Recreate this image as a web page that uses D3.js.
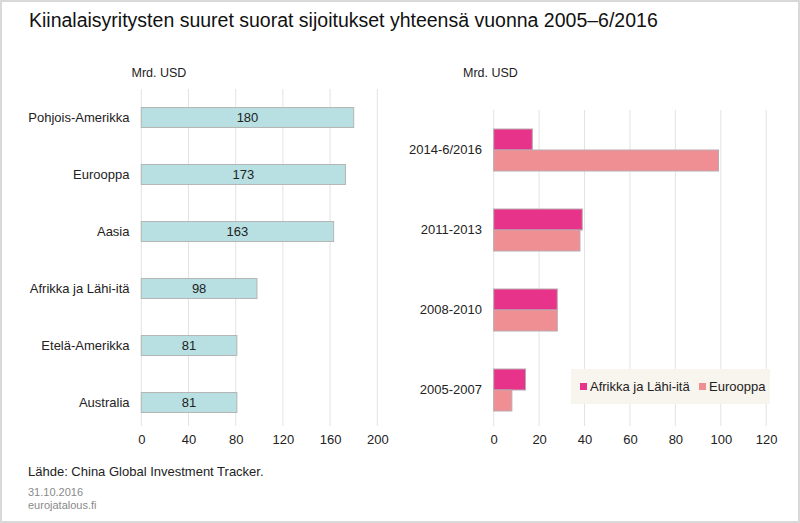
<!DOCTYPE html>
<html><head><meta charset="utf-8">
<script src="https://cdn.jsdelivr.net/npm/d3@7"></script>
<style>
html,body{margin:0;padding:0;background:#fff;}
text{font-family:"Liberation Sans",Arial,sans-serif;}
</style></head><body>
<svg id="c" width="800" height="523"></svg>
<script>
const regions = ["Pohjois-Amerikka","Eurooppa","Aasia","Afrikka ja Lähi-itä","Etelä-Amerikka","Australia"];
const regionValues = [180,173,163,98,81,81];
const leftTicks = [0,40,80,120,160,200];

const periods = ["2014-6/2016","2011-2013","2008-2010","2005-2007"];
const seriesNames = ["Afrikka ja Lähi-itä","Eurooppa"];
const afrikkaValues = [17,39,28,14];
const eurooppaValues = [99,38,28,8];
const rightTicks = [0,20,40,60,80,100,120];
const seriesColors = ["#e8338a","#f08f93"];

const svg = d3.select("#c");
svg.append("rect").attr("x",1).attr("y",1).attr("width",798).attr("height",521)
  .attr("fill","#fff").attr("stroke","#d9d9d9").attr("stroke-width",2);

svg.append("text").attr("x",29).attr("y",27).attr("font-size",19.5).attr("fill","#111")
  .text("Kiinalaisyritysten suuret suorat sijoitukset yhteensä vuonna 2005–6/2016");

// LEFT CHART
const xL = d3.scaleLinear().domain([0,200]).range([141.3,377.3]);
const yL = d3.scaleBand().domain(regions).range([89,431]).paddingInner(0.65).paddingOuter(0.325);
const gL = svg.append("g");
gL.selectAll("line.grid").data(leftTicks).join("line")
  .attr("x1",d=>xL(d)).attr("x2",d=>xL(d)).attr("y1",89).attr("y2",426)
  .attr("stroke","#e3e3e3").attr("stroke-width",1);
gL.selectAll("rect.bar").data(regions).join("rect")
  .attr("x",xL(0)).attr("y",d=>yL(d)).attr("height",yL.bandwidth())
  .attr("width",(d,i)=>xL(regionValues[i])-xL(0))
  .attr("fill","#b8e0e2").attr("stroke","#b5b5b5").attr("stroke-width",1);
gL.selectAll("text.val").data(regions).join("text")
  .attr("x",(d,i)=>(xL(0)+xL(regionValues[i]))/2).attr("y",d=>yL(d)+yL.bandwidth()/2+4.5)
  .attr("text-anchor","middle").attr("font-size",13).attr("fill","#222")
  .text((d,i)=>regionValues[i]);
const axYL = gL.append("g").attr("transform","translate(129.5,0)")
  .call(d3.axisLeft(yL).tickSize(0).tickPadding(0));
axYL.select(".domain").remove();
axYL.selectAll("text").attr("font-size",13).attr("fill","#222").attr("font-family","Liberation Sans, Arial, sans-serif");
const axXL = gL.append("g").attr("transform","translate(0,435)")
  .call(d3.axisBottom(xL).tickValues(leftTicks).tickSize(0).tickPadding(0));
axXL.select(".domain").remove();
axXL.selectAll("text").attr("font-size",13).attr("fill","#222").attr("dy","0.71em").attr("font-family","Liberation Sans, Arial, sans-serif");
svg.append("text").attr("x",131.5).attr("y",77.3).attr("font-size",12.5).attr("fill","#222").text("Mrd. USD");

// RIGHT CHART
const xR = d3.scaleLinear().domain([0,120]).range([493.7,766.2]);
const yR = d3.scaleBand().domain(periods).range([110,430]).paddingInner(0.475).paddingOuter(0.2375);
const yS = d3.scaleBand().domain(seriesNames).range([0,yR.bandwidth()]);
const gR = svg.append("g");
gR.selectAll("line.grid").data(rightTicks).join("line")
  .attr("x1",d=>xR(d)).attr("x2",d=>xR(d)).attr("y1",110).attr("y2",426)
  .attr("stroke","#e3e3e3").attr("stroke-width",1);
const seriesData = [afrikkaValues, eurooppaValues];
seriesNames.forEach((s,si)=>{
  gR.selectAll("rect.s"+si).data(periods).join("rect")
    .attr("x",xR(0)).attr("y",d=>yR(d)+yS(s)).attr("height",yS.bandwidth())
    .attr("width",(d,i)=>xR(seriesData[si][i])-xR(0))
    .attr("fill",seriesColors[si]).attr("stroke","#b9a9b0").attr("stroke-width",1);
});
const axYR = gR.append("g").attr("transform","translate(482,0)")
  .call(d3.axisLeft(yR).tickSize(0).tickPadding(0));
axYR.select(".domain").remove();
axYR.selectAll("text").attr("font-size",13).attr("fill","#222").attr("font-family","Liberation Sans, Arial, sans-serif");
const axXR = gR.append("g").attr("transform","translate(0,435)")
  .call(d3.axisBottom(xR).tickValues(rightTicks).tickSize(0).tickPadding(0));
axXR.select(".domain").remove();
axXR.selectAll("text").attr("font-size",13).attr("fill","#222").attr("dy","0.71em").attr("font-family","Liberation Sans, Arial, sans-serif");
svg.append("text").attr("x",463).attr("y",77.3).attr("font-size",12.5).attr("fill","#222").text("Mrd. USD");

// Legend
const lg = svg.append("g");
lg.append("rect").attr("x",571).attr("y",369).attr("width",199).attr("height",35).attr("fill","#f8f4ee");
const legX = [580,699];
seriesNames.forEach((s,i)=>{
  lg.append("rect").attr("x",legX[i]).attr("y",383).attr("width",7).attr("height",7)
    .attr("fill",seriesColors[i]);
  lg.append("text").attr("x",legX[i]+10).attr("y",391).attr("font-size",13).attr("fill","#222").text(s);
});

// Footer
svg.append("text").attr("x",28).attr("y",476).attr("font-size",13).attr("fill","#222")
  .text("Lähde: China Global Investment Tracker.");
svg.append("text").attr("x",28).attr("y",495.5).attr("font-size",11).attr("fill","#8a8a8a").text("31.10.2016");
svg.append("text").attr("x",28).attr("y",509).attr("font-size",11).attr("fill","#8a8a8a").text("eurojatalous.fi");
</script>
</body></html>
